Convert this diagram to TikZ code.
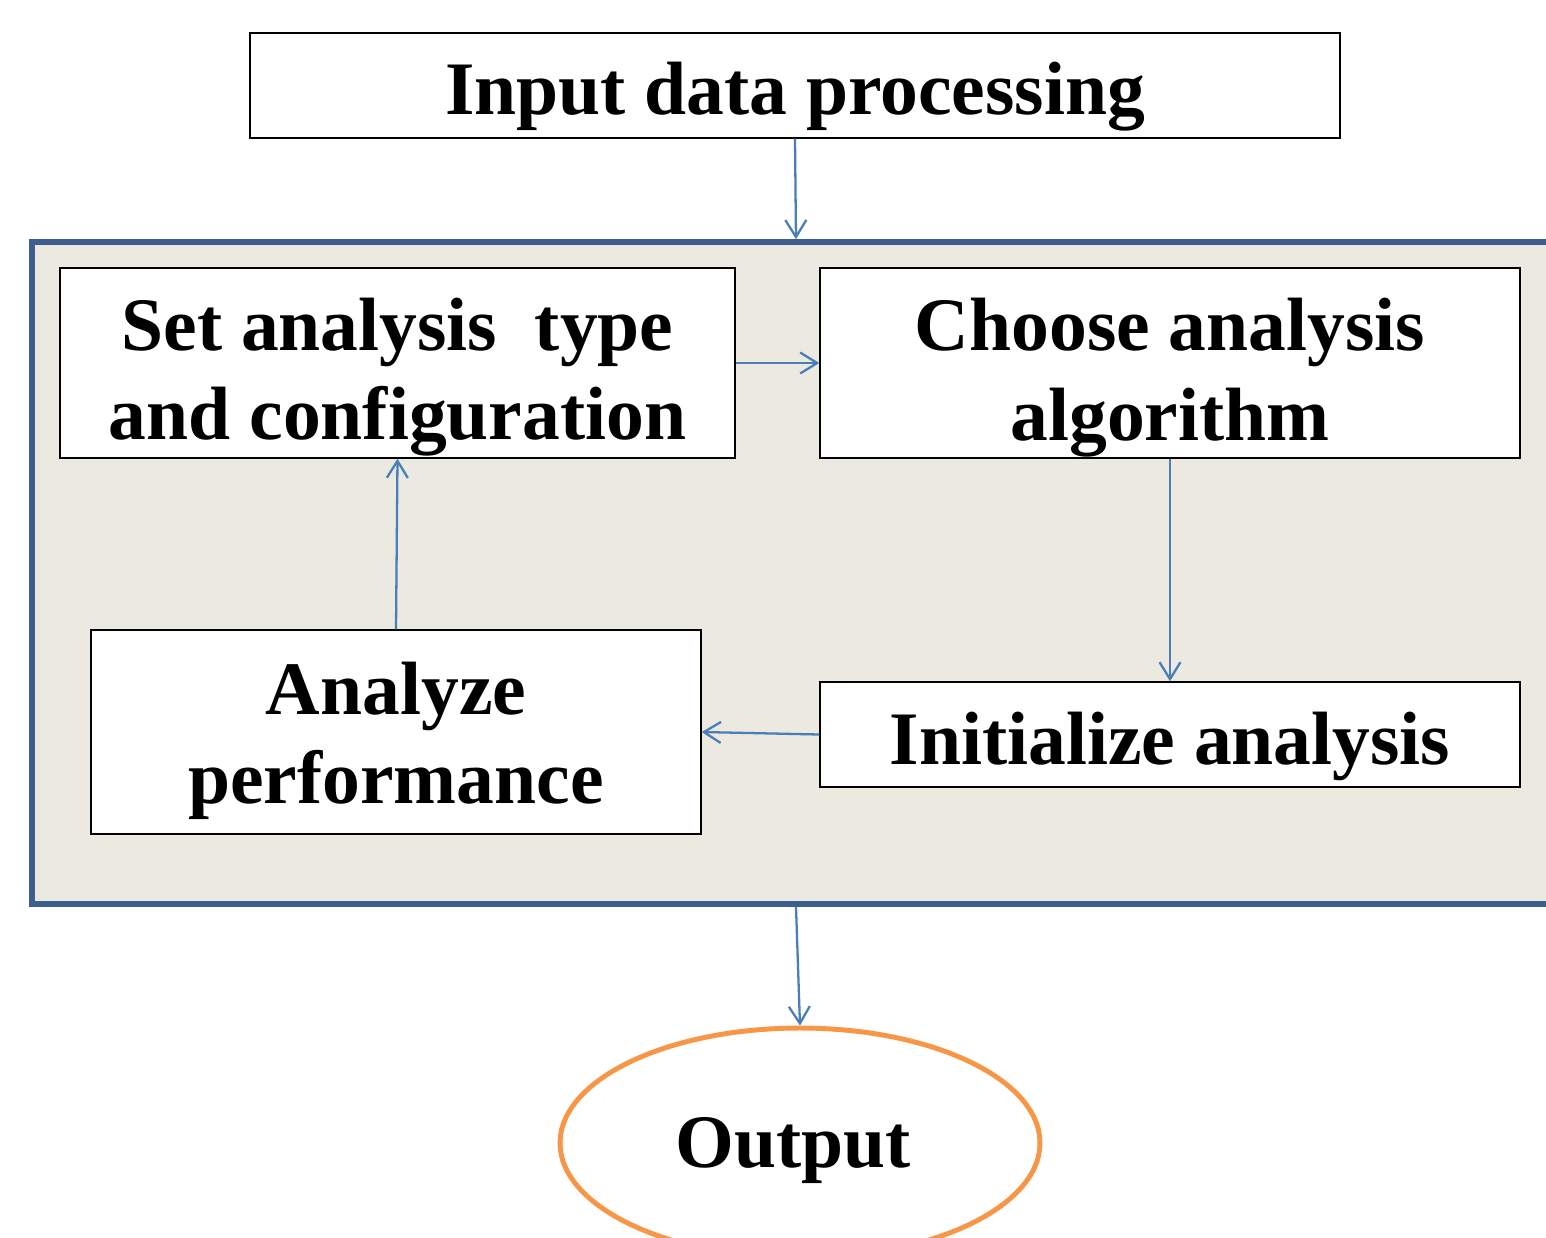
\documentclass[tikz,border=0pt]{standalone}
\usepackage{fontspec}
\setmainfont{Liberation Serif}
\usetikzlibrary{arrows.meta,shapes.geometric}
\definecolor{framefill}{HTML}{ECEAE0}
\definecolor{framedraw}{HTML}{3D5F8F}
\definecolor{arrowblue}{HTML}{4A7EBB}
\definecolor{outorange}{HTML}{F79646}
\tikzset{
  box/.style={draw=black, line width=0.8pt, fill=white, inner sep=0pt},
  txt/.style={align=center, inner sep=0pt, font=\fontsize{43}{51}\selectfont\bfseries},
  conn/.style={draw=arrowblue, line width=1.3pt,
    -{Straight Barb[length=0.34cm,width=0.42cm,line width=1.3pt]}},
}
\begin{document}
\begin{tikzpicture}[x=0.02cm,y=-0.02cm]
\useasboundingbox (0,0) rectangle (1546,1238);
\fill[white] (0,0) rectangle (1546,1238);
\node[draw=framedraw, fill=framefill, line width=3.3pt, minimum width=30.56cm, minimum height=13.24cm, inner sep=0pt] (frame) at (796,573) {};
\node[box, minimum width=21.8cm, minimum height=2.1cm] (input) at (795,85.5) {};
\node[txt] (inputtext) at ([yshift=-0.22cm]input.center) {Input data processing};
\node[box, minimum width=13.5cm, minimum height=3.8cm] (set) at (397.5,363) {};
\node[txt] (settext) at ([yshift=-0.28cm]set.center) {Set analysis\ \ type\\and configuration};
\node[box, minimum width=14cm, minimum height=3.8cm] (choose) at (1170,363) {};
\node[txt] (choosetext) at ([yshift=-0.29cm]choose.center) {Choose analysis\\algorithm};
\node[box, minimum width=12.2cm, minimum height=4.08cm] (analyze) at (396,732) {};
\node[txt] (analyzetext) at ([yshift=-0.18cm]analyze.center) {Analyze\\performance};
\node[box, minimum width=14cm, minimum height=2.1cm] (init) at (1170,734.5) {};
\node[txt] (inittext) at ([yshift=-0.24cm]init.center) {Initialize analysis};
\node[ellipse, draw=outorange, line width=2.8pt, fill=white, minimum width=9.6cm, minimum height=4.6cm, inner sep=0pt] (output) at (800,1143) {};
\node[txt] (outputtext) at ([xshift=-0.14cm,yshift=-0.16cm]output.center) {Output};
\draw[conn] (input.south) -- (frame.north);
\draw[conn] (set.east) -- (choose.west);
\draw[conn] (choose.south) -- (init.north);
\draw[conn] (init.west) -- (analyze.east);
\draw[conn] (analyze.north) -- (set.south);
\draw[conn] (frame.south) -- (output.north);
\end{tikzpicture}
\end{document}
